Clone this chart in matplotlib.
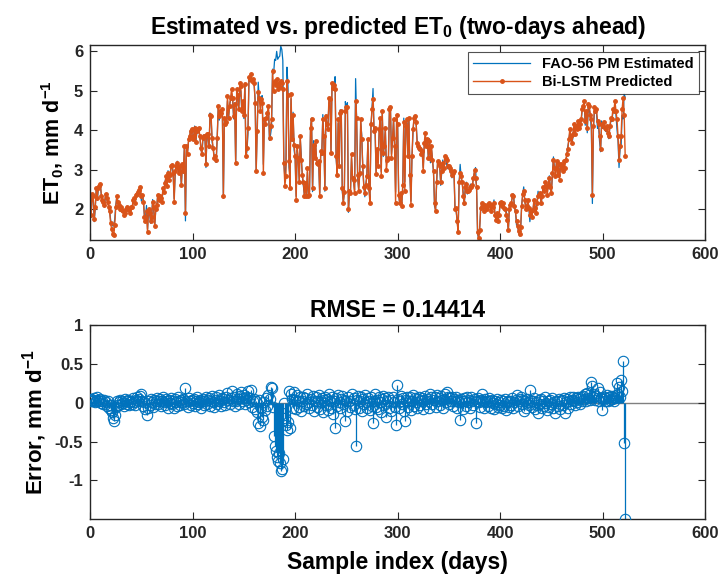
import numpy as np
import matplotlib
matplotlib.use("Agg")
import matplotlib.pyplot as plt

plt.rcParams['font.family'] = ['Liberation Sans', 'DejaVu Sans']
plt.rcParams['font.weight'] = 'bold'
plt.rcParams['mathtext.fontset'] = 'custom'
plt.rcParams['mathtext.rm'] = 'Liberation Sans:bold'
plt.rcParams['mathtext.it'] = 'Liberation Sans:bold'
plt.rcParams['mathtext.bf'] = 'Liberation Sans:bold'

# Bi-LSTM predicted ET0 (mm/d), sample index 0..522
predicted = [
    2.25, 1.85, 2.40, 2.35, 1.75, 2.05, 2.55, 2.30, 2.55, 2.60,
    2.65, 2.35, 2.25, 2.20, 2.10, 2.40, 2.30, 2.20, 2.05, 1.95,
    1.65, 1.50, 1.38, 1.35, 1.60, 2.05, 2.33, 2.20, 2.10, 2.00,
    2.05, 1.99, 1.95, 1.86, 1.92, 2.00, 2.07, 2.02, 1.98, 1.90,
    2.05, 2.05, 2.25, 2.28, 2.15, 2.37, 2.40, 2.45, 2.50, 2.58,
    2.33, 2.37, 2.20, 1.82, 1.70, 1.95, 1.44, 2.00, 1.90, 1.70,
    1.82, 2.20, 2.05, 1.57, 2.00, 2.10, 2.37, 2.25, 2.33, 2.29,
    2.20, 2.54, 2.45, 2.67, 2.84, 2.60, 2.92, 2.75, 2.88, 3.10,
    3.13, 2.92, 2.20, 2.97, 3.10, 3.18, 3.05, 2.92, 3.10, 2.63,
    3.14, 2.97, 3.60, 1.90, 3.60, 3.40, 3.77, 3.86, 3.98, 4.03,
    3.77, 3.86, 4.07, 3.70, 3.98, 4.03, 4.07, 3.86, 3.56, 3.39,
    3.82, 3.86, 3.86, 3.14, 3.90, 3.90, 3.60, 4.40, 4.36, 3.80,
    3.56, 3.30, 3.35, 3.26, 3.82, 4.62, 4.36, 4.49, 4.45, 4.53,
    2.33, 4.32, 4.15, 4.20, 4.87, 4.32, 4.62, 4.83, 5.04, 4.83,
    4.36, 4.66, 3.18, 5.04, 4.90, 4.53, 5.20, 5.12, 4.49, 4.75,
    4.40, 5.17, 3.35, 3.56, 4.07, 5.34, 5.30, 5.42, 5.25, 5.30,
    5.20, 4.70, 2.97, 3.98, 4.96, 4.83, 4.50, 4.80, 4.70, 2.92,
    4.28, 4.15, 4.32, 4.45, 4.62, 3.80, 4.10, 4.28, 5.50, 5.00,
    5.25, 5.15, 5.30, 5.05, 5.20, 5.10, 5.25, 5.20, 5.05, 3.18,
    2.60, 2.84, 5.25, 4.90, 3.22, 2.54, 4.92, 3.77, 4.40, 3.64,
    3.35, 2.25, 3.60, 3.30, 2.70, 3.86, 3.26, 2.88, 2.70, 2.33,
    2.68, 2.33, 3.05, 2.33, 2.37, 4.07, 4.28, 2.54, 3.64, 3.30,
    3.72, 3.18, 3.14, 3.22, 2.33, 3.48, 3.43, 4.28, 3.86, 2.54,
    4.36, 4.15, 4.03, 4.83, 4.79, 3.43, 5.20, 5.08, 5.15, 5.04,
    3.35, 2.88, 4.28, 3.10, 4.45, 4.49, 2.54, 2.16, 2.45, 4.49,
    4.58, 4.60, 2.00, 2.46, 2.42, 3.40, 2.80, 2.75, 2.42, 4.75,
    4.32, 2.88, 2.46, 2.92, 4.28, 3.77, 3.10, 2.58, 2.42, 2.63,
    2.84, 3.77, 2.54, 2.16, 4.15, 4.53, 4.80, 3.98, 4.07, 2.90,
    3.52, 3.10, 4.03, 4.32, 2.84, 4.49, 3.43, 3.60, 4.07, 3.00,
    3.26, 3.30, 4.53, 4.58, 3.30, 3.80, 4.28, 3.60, 2.16, 4.40,
    4.15, 2.37, 2.16, 2.42, 2.08, 2.63, 4.20, 2.46, 4.10, 4.28,
    3.35, 4.32, 2.88, 2.12, 3.35, 4.03, 4.32, 4.36, 4.20, 3.69,
    3.60, 3.56, 3.52, 3.39, 3.47, 2.97, 3.69, 3.94, 3.60, 3.77,
    3.30, 3.73, 3.30, 3.60, 3.26, 2.97, 2.16, 1.95, 2.70, 3.22,
    3.18, 3.10, 2.70, 2.97, 3.18, 3.05, 3.35, 3.30, 3.26, 3.10,
    3.10, 3.05, 2.97, 2.88, 2.92, 2.97, 2.00, 2.03, 1.70, 1.44,
    2.70, 2.92, 2.84, 2.70, 2.33, 2.16, 2.58, 2.65, 2.46, 2.46,
    2.50, 2.58, 2.58, 2.62, 2.80, 3.00, 2.80, 2.58, 1.44, 1.27,
    1.48, 2.03, 2.16, 2.08, 1.95, 2.12, 2.05, 2.00, 2.12, 2.16,
    2.10, 1.95, 2.12, 2.05, 2.16, 1.86, 1.74, 1.90, 1.70, 1.85,
    2.16, 2.20, 2.08, 2.16, 2.03, 2.00, 1.86, 1.74, 1.48, 2.00,
    2.12, 2.16, 2.37, 2.33, 2.08, 1.95, 1.70, 1.57, 1.45, 1.38,
    1.55, 2.08, 2.40, 2.46, 2.25, 2.00, 2.08, 2.25, 2.03, 1.86,
    1.95, 1.82, 1.99, 2.25, 2.03, 1.90, 2.16, 2.33, 2.37, 2.42,
    2.16, 2.33, 2.58, 2.46, 2.70, 2.58, 2.37, 2.63, 2.80, 2.58,
    2.42, 2.92, 3.26, 3.05, 2.84, 3.22, 2.88, 3.14, 2.75, 3.14,
    3.05, 2.97, 3.22, 3.05, 3.26, 3.39, 3.52, 3.77, 4.03, 3.86,
    3.69, 3.90, 4.15, 3.90, 4.10, 4.03, 4.24, 4.07, 4.15, 4.28,
    4.53, 4.62, 4.75, 4.24, 4.49, 4.07, 4.66, 4.62, 4.40, 4.28,
    2.37, 4.10, 4.58, 4.49, 4.53, 4.24, 4.15, 3.86, 3.52, 4.15,
    4.10, 4.20, 4.07, 4.03, 4.10, 3.94, 3.86, 4.10, 4.32, 4.28,
    4.53, 4.49, 4.75, 4.49, 4.28, 3.86, 3.26, 3.60, 3.86, 4.53,
    4.83, 4.40, 3.35,
]

# error = predicted - estimated (mm/d)
error = [
    0.03, 0.05, 0.02, 0.04, 0.06, 0.01, 0.03, 0.07, 0.04, 0.02,
    0.05, 0.00, 0.03, -0.02, 0.04, 0.01, -0.04, 0.02, -0.06, -0.03,
    -0.09, -0.12, -0.20, -0.24, -0.15, -0.05, 0.02, -0.03, 0.01, 0.04,
    -0.02, 0.03, 0.00, -0.04, 0.05, 0.02, -0.01, 0.04, -0.03, 0.01,
    0.03, -0.02, 0.06, 0.01, -0.03, 0.04, 0.07, 0.02, 0.05, 0.09,
    0.12, 0.03, -0.04, 0.01, -0.08, -0.15, -0.06, 0.02, -0.03, 0.05,
    0.01, -0.05, 0.04, -0.02, 0.03, 0.06, -0.01, 0.02, 0.05, -0.04,
    0.03, 0.08, 0.01, -0.03, 0.05, 0.02, -0.06, 0.04, 0.00, 0.06,
    -0.02, 0.03, -0.07, 0.05, 0.01, -0.04, 0.07, 0.02, -0.03, 0.04,
    0.01, 0.05, -0.02, 0.19, 0.03, -0.05, 0.06, 0.02, -0.03, 0.04,
    0.00, 0.05, -0.04, 0.03, 0.07, -0.02, 0.01, 0.04, -0.06, 0.02,
    0.05, -0.03, 0.02, 0.08, -0.01, 0.04, 0.06, -0.04, 0.02, 0.09,
    0.01, -0.05, 0.04, 0.07, -0.02, 0.03, 0.10, 0.02, -0.04, 0.06,
    0.05, 0.01, -0.03, 0.08, 0.13, 0.04, -0.02, 0.06, 0.15, 0.03,
    0.07, -0.04, 0.02, 0.12, 0.05, -0.01, 0.09, 0.14, 0.03, 0.06,
    0.10, -0.02, 0.04, 0.08, 0.15, 0.01, 0.06, 0.17, -0.05, 0.03,
    0.05, -0.08, 0.02, -0.12, -0.26, 0.04, -0.30, -0.06, -0.18, -0.22,
    0.01, -0.09, 0.06, -0.04, 0.10, 0.05, 0.21, 0.19, -0.05, -0.43,
    -0.55, -0.62, -0.70, -0.75, -0.65, -0.78, -0.88, -0.85, -0.72, 0.00,
    -0.20, -0.28, -0.35, -0.25, 0.15, -0.32, 0.12, 0.05, -0.06, 0.14,
    0.04, -0.08, 0.10, 0.02, -0.05, 0.07, -0.11, 0.03, 0.08, -0.04,
    0.06, -0.02, 0.11, 0.01, -0.07, 0.05, -0.03, 0.09, -0.10, 0.02,
    0.07, -0.05, 0.03, 0.10, -0.08, 0.01, 0.06, -0.12, 0.04, 0.08,
    -0.03, 0.05, -0.09, 0.12, 0.02, -0.06, 0.08, -0.14, 0.03, -0.32,
    0.06, -0.04, 0.10, 0.01, -0.07, 0.05, 0.09, -0.02, 0.04, -0.24,
    0.03, -0.10, 0.07, 0.02, -0.05, 0.11, -0.03, 0.06, -0.08, -0.56,
    0.04, 0.09, -0.06, 0.02, 0.07, -0.11, 0.05, -0.02, 0.10, 0.01,
    -0.07, 0.06, 0.03, -0.09, 0.08, -0.04, -0.26, 0.02, 0.11, -0.05,
    0.04, -0.08, 0.07, 0.01, -0.12, 0.05, 0.09, -0.03, 0.06, -0.18,
    0.02, 0.08, -0.06, 0.04, -0.10, 0.07, 0.01, -0.05, -0.28, 0.23,
    0.05, -0.07, 0.03, 0.09, -0.02, 0.06, -0.11, -0.24, 0.04, 0.08,
    -0.05, 0.02, 0.07, -0.09, 0.03, 0.10, -0.04, 0.06, 0.01, -0.07,
    0.05, 0.08, -0.03, 0.02, 0.06, -0.08, 0.04, 0.09, -0.02, 0.05,
    0.03, -0.06, 0.12, 0.07, -0.01, 0.04, 0.08, -0.05, 0.10, 0.02,
    0.06, -0.03, 0.09, 0.04, -0.07, 0.05, 0.11, 0.01, 0.14, 0.07,
    -0.02, 0.06, 0.03, 0.08, -0.04, 0.05, 0.02, 0.07, -0.06, 0.04,
    0.01, -0.22, 0.05, 0.03, -0.08, 0.06, 0.02, -0.04, 0.07, 0.01,
    0.04, -0.06, 0.08, 0.02, -0.03, 0.05, -0.26, 0.03, 0.06, 0.01,
    -0.05, 0.04, 0.12, 0.02, -0.07, 0.05, 0.01, 0.03, -0.04, 0.06,
    0.02, -0.06, 0.04, 0.00, -0.08, 0.03, -0.02, 0.05, -0.05, 0.01,
    -0.03, 0.04, -0.07, 0.02, -0.04, 0.05, -0.09, 0.01, 0.03, -0.05,
    0.02, -0.03, 0.06, -0.06, 0.01, 0.04, 0.10, -0.04, 0.03, 0.05,
    0.08, -0.02, 0.04, -0.11, 0.02, -0.06, 0.05, 0.01, -0.03, 0.17,
    0.03, -0.05, 0.02, 0.06, -0.08, 0.01, -0.03, -0.13, 0.04, -0.02,
    0.05, -0.06, 0.02, -0.04, 0.07, 0.00, -0.09, 0.03, -0.05, 0.04,
    -0.02, 0.06, -0.07, 0.01, -0.13, 0.03, -0.04, 0.05, -0.08, 0.02,
    0.04, -0.03, 0.06, -0.13, 0.01, 0.05, -0.06, 0.03, 0.07, -0.02,
    0.04, 0.08, 0.02, -0.03, 0.06, 0.01, 0.08, 0.05, -0.02, 0.07,
    0.03, 0.09, 0.05, 0.11, 0.02, 0.13, 0.06, 0.10, 0.04, 0.27,
    0.22, 0.07, 0.12, 0.04, 0.09, 0.19, 0.03, 0.14, 0.06, -0.09,
    0.05, 0.08, 0.02, 0.06, 0.10, 0.03, 0.07, 0.04, 0.09, 0.05,
    0.08, 0.03, 0.06, 0.10, 0.25, 0.12, 0.20, 0.07, 0.30, 0.15,
    0.54, -0.52, -1.49,
]

n = min(len(predicted), len(error))
pred = np.array(predicted[:n])
err = np.array(error[:n])
est = pred - err          # FAO-56 PM estimated
idx = np.arange(n)

blue = '#0072BD'
orange = '#D95319'
dark = '#262626'

fig = plt.figure(figsize=(7.21, 5.85), dpi=100)
ax1 = fig.add_axes([0.125, 0.590, 0.853, 0.333])
ax2 = fig.add_axes([0.125, 0.113, 0.853, 0.331])

# top: estimated vs predicted
ax1.plot(idx, est, color=blue, lw=0.9, label='FAO-56 PM Estimated')
ax1.plot(idx, pred, color=orange, lw=1.0, marker='.', ms=5, label='Bi-LSTM Predicted')
ax1.set_xlim(0, 600)
lo = min(est.min(), pred.min())
hi = max(est.max(), pred.max())
ax1.set_ylim(lo - 0.03, hi + 0.03)
ax1.set_yticks([2, 3, 4, 5, 6])
ax1.set_title(r'Estimated vs. predicted ET$_{0}$ (two-days ahead)', fontsize=16.5, fontweight='bold', pad=8)
ax1.set_ylabel(r'ET$_{0}$, mm d$^{-1}$', fontsize=15.5, fontweight='bold', labelpad=6)
leg = ax1.legend(loc='upper right', fontsize=10.5, handlelength=3.9, frameon=True, fancybox=False,
                 borderpad=0.35, labelspacing=0.3, borderaxespad=0.45)
leg.get_frame().set_edgecolor(dark)
leg.get_frame().set_linewidth(0.8)

# bottom: error stems
ax2.axhline(0, color='#808080', lw=1.0, zorder=1)
ax2.vlines(idx, 0, err, color=blue, lw=0.9, zorder=2)
ax2.plot(idx, err, 'o', ms=7.5, mfc='none', mec=blue, mew=0.8, zorder=3)
ax2.set_xlim(0, 600)
ax2.set_ylim(err.min() - 0.005, 1)
ax2.set_yticks([-1, -0.5, 0, 0.5, 1])
ax2.set_yticklabels(['-1', '-0.5', '0', '0.5', '1'])
ax2.set_title('RMSE = 0.14414', fontsize=16.5, fontweight='bold', pad=6)
ax2.set_xlabel('Sample index (days)', fontsize=16.5, fontweight='bold', labelpad=7)
ax2.set_ylabel(r'Error, mm d$^{-1}$', fontsize=16, fontweight='bold', labelpad=4)

for ax in (ax1, ax2):
    ax.set_xticks(np.arange(0, 601, 100))
    ax.tick_params(direction='in', top=True, right=True, length=5, width=0.8,
                   labelsize=12, colors=dark, pad=5)
    for lab in ax.get_xticklabels() + ax.get_yticklabels():
        lab.set_fontweight('bold')
    for s in ax.spines.values():
        s.set_color(dark)
        s.set_linewidth(1.0)

fig.savefig('out.png', dpi=100)
